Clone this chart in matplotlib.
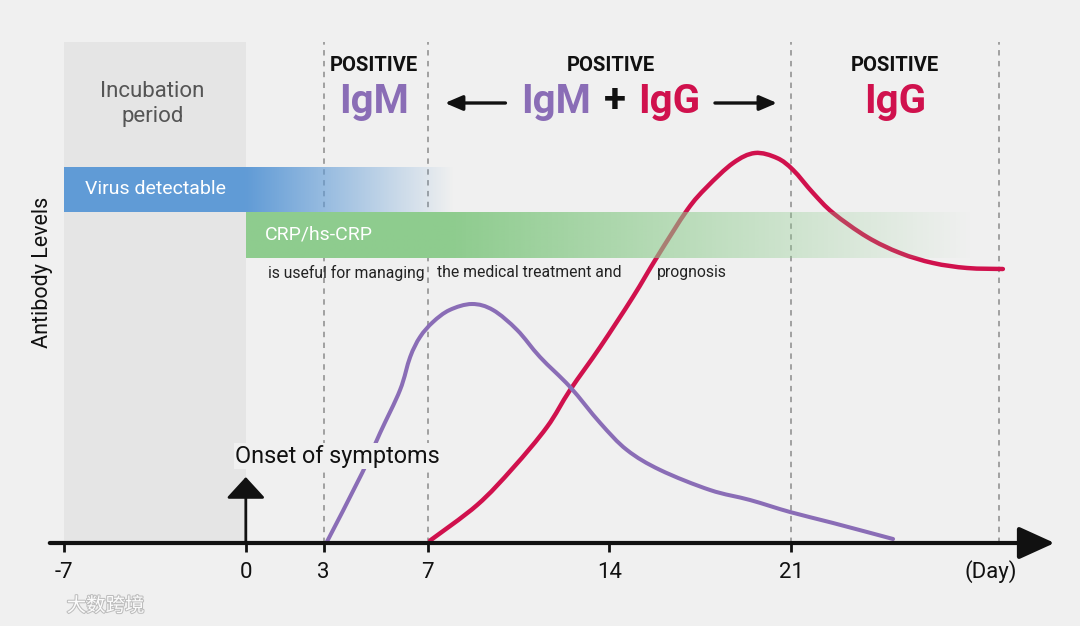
import numpy as np
import matplotlib.pyplot as plt
import matplotlib.patheffects as pe
from matplotlib.patches import Rectangle, PathPatch
from matplotlib.path import Path

plt.rcParams['font.family'] = ['Roboto', 'DejaVu Sans']

# days on the x axis, levels 0-100 on the y axis
igm_day = [3.1, 4.48, 5.17, 5.94, 6.33, 6.71, 7.21, 7.85, 8.71, 9.52, 10.45, 11.33,
           12.49, 13.65, 14.68, 15.96, 17.88, 19.42, 20.96, 22.62, 24.93]
igm_level = [0, 14, 22, 30.6, 37.2, 41.2, 44.2, 46.6, 47.8, 46.6, 42.6, 37.2,
             31.2, 24, 18.6, 14.6, 10.6, 8.6, 6.2, 4, 0.8]

igg_day = [7.1, 8.91, 10.29, 11.6, 12.49, 13.65, 14.91, 15.84, 17.0, 17.76, 18.77, 19.61,
           20.46, 21.08, 21.85, 22.62, 23.93, 25.2, 26.47, 27.78, 29.16]
igg_level = [0.5, 7.6, 15.0, 23.2, 30.6, 39.2, 49.2, 57.2, 66.6, 71.2, 76, 78,
             77, 74.6, 70, 66, 61.2, 58, 56, 55, 54.8]

tick_days = [-7, 0, 3, 7, 14, 21]
tick_labels = ['-7', '0', '3', '7', '14', '21']
phase_days = [3, 7, 21, 29]

bg = '#f0f0f0'
purple = '#8a6db6'
crimson = '#d0114d'

fig = plt.figure(figsize=(10.8, 6.26), dpi=100, facecolor=bg)
ax = fig.add_axes([0, 0, 1, 1])
ax.set_facecolor(bg)
ax.set_xlim(-9.468, 32.13)
ax.set_ylim(-16.6, 108.6)
ax.axis('off')


def smooth_path(xs, ys):
    # catmull-rom through the read points, drawn as cubic bezier segments
    p = np.column_stack([xs, ys]).astype(float)
    verts = [p[0]]
    codes = [Path.MOVETO]
    for i in range(len(p) - 1):
        p0 = p[i - 1] if i > 0 else p[i]
        p3 = p[i + 2] if i + 2 < len(p) else p[i + 1]
        c1 = p[i] + (p[i + 1] - p0) / 6
        c2 = p[i + 1] - (p3 - p[i]) / 6
        verts += [c1, c2, p[i + 1]]
        codes += [Path.CURVE4] * 3
    return Path(verts, codes)


# incubation period shade
ax.add_patch(Rectangle((-7, 0), 7, 100.2, facecolor='#e5e5e5', edgecolor='none', zorder=0.5))

# phase separators
ax.vlines(phase_days, 0, 100.2, colors='#9a9a9a', linestyles=(0, (3, 3)), lw=1.3, zorder=1)


def gradient_bar(x0, x1, y0, y1, rgb, solid_to, fade_to):
    xs = np.linspace(x0, x1, 400)
    alpha = np.clip((fade_to - xs) / (fade_to - solid_to), 0, 1)
    img = np.zeros((1, len(xs), 4))
    img[0, :, :3] = rgb
    img[0, :, 3] = alpha
    ax.imshow(img, extent=(x0, x1, y0, y1), aspect='auto', interpolation='bilinear', zorder=2)


gradient_bar(-7, 9, 66.2, 75.2, (0.38, 0.61, 0.84), 0.0, 8.0)
gradient_bar(0, 29, 57.0, 66.2, (0.56, 0.80, 0.56), 8.0, 28.0)

# antibody curves
ax.add_patch(PathPatch(smooth_path(igg_day, igg_level), facecolor='none', edgecolor=crimson,
                       lw=3.2, capstyle='round', zorder=1.5))
ax.add_patch(PathPatch(smooth_path(igm_day, igm_level), facecolor='none', edgecolor=purple,
                       lw=2.9, capstyle='round', zorder=1.5))

ax.text(-6.2, 70.8, 'Virus detectable', color='white', fontsize=14,
        ha='left', va='center', zorder=3)
ax.text(0.74, 61.6, 'CRP/hs-CRP', color='white', fontsize=14,
        ha='left', va='center', zorder=3)

small = dict(fontsize=11.3, color='#222', va='center', ha='left', zorder=3)
ax.text(0.85, 54, 'is useful for managing', **small)
ax.text(7.36, 54, 'the medical treatment and', **small)
ax.text(15.84, 54, 'prognosis', **small)

ax.text(-3.6, 87.8, 'Incubation\nperiod', color='#555555', fontsize=16,
        ha='center', va='center', linespacing=1.3, zorder=3)

ax.text(-7.85, 54.2, 'Antibody Levels', rotation=90, fontsize=15.5, color='#111',
        ha='center', va='center')

# phase headers
for d in [4.94, 14.07, 25.0]:
    ax.text(d, 95.4, 'POSITIVE', fontsize=14.5, fontweight='bold', color='#111',
            ha='center', va='center')
big = dict(fontsize=29, fontweight='bold', ha='center', va='center')
ax.text(4.94, 88.2, 'IgM', color=purple, **big)
ax.text(11.95, 88.2, 'IgM', color=purple, **big)
ax.text(14.2, 88.4, '+', color='#111', **big)
ax.text(16.3, 88.2, 'IgG', color=crimson, **big)
ax.text(25.0, 88.2, 'IgG', color=crimson, **big)

harrow = dict(arrowstyle='-|>,head_length=0.7,head_width=0.3', lw=2.4, color='#111',
              mutation_scale=15, shrinkA=0, shrinkB=0)
ax.annotate('', xy=(7.67, 88.0), xytext=(10.0, 88.0), arrowprops=harrow)
ax.annotate('', xy=(20.46, 88.0), xytext=(18.07, 88.0), arrowprops=harrow)

# x axis with arrow
ax.annotate('', xy=(31.15, 0), xytext=(-7.55, 0),
            arrowprops=dict(arrowstyle='-|>,head_length=1.1,head_width=0.5', lw=3,
                            color='#111', mutation_scale=20, shrinkA=0, shrinkB=0),
            zorder=4)
ax.vlines(tick_days, -1.7, 0, colors='#111', lw=2, zorder=4)
for d, lab in zip(tick_days, tick_labels):
    ax.text(d, -5.8, lab, fontsize=16, color='#111', ha='center', va='center')
ax.text(28.7, -5.8, '(Day)', fontsize=16, color='#111', ha='center', va='center')

# onset of symptoms
ax.annotate('', xy=(0, 13.2), xytext=(0, 0),
            arrowprops=dict(arrowstyle='-|>,head_length=0.6,head_width=0.55', lw=2,
                            color='#111', mutation_scale=22, shrinkA=0, shrinkB=0),
            zorder=4)
ax.text(-0.4, 17.4, 'Onset of symptoms', fontsize=16.8, color='#111', ha='left', va='center',
        zorder=5, bbox=dict(facecolor=bg, edgecolor='none', pad=1.0))

# watermark
ax.text(-6.9, -12.6, '大数跨境', fontsize=14, color='white', ha='left', va='center',
        family=['Noto Sans CJK SC', 'DejaVu Sans'], alpha=0.95,
        path_effects=[pe.withStroke(linewidth=1.5, foreground='#bbbbbb')])

fig.savefig('out.png', dpi=100, facecolor=bg)
